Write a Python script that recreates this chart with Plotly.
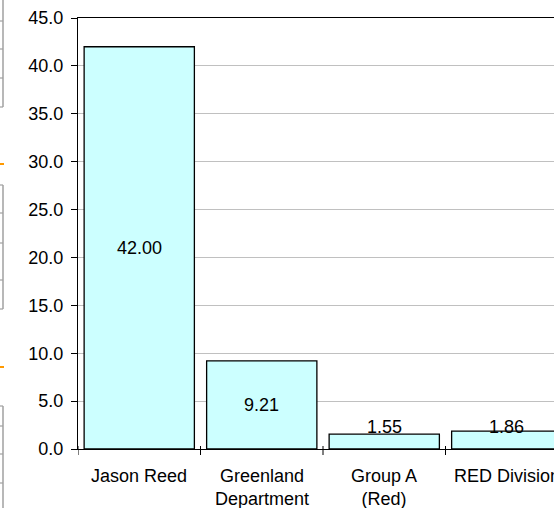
import plotly.graph_objects as go

# Chart data
categories = ["Jason Reed", "Greenland<br>Department", "Group A<br>(Red)", "RED Division"]
values = [42.00, 9.21, 1.55, 1.86]
y_ticks = [0, 5, 10, 15, 20, 25, 30, 35, 40, 45]
y_tick_labels = [f"{t:.1f}" for t in y_ticks]

W, H = 554, 508
M_L, M_R, M_T, M_B = 78, 0, 18, 59
plot_w = W - M_L - M_R
plot_h = H - M_T - M_B
cat_px = 122.5  # pixel width of one category slot

FONT = "Liberation Sans, Arial, sans-serif"
FS = 18

fig = go.Figure()
fig.add_trace(go.Bar(
    x=list(range(len(categories))),
    y=values,
    width=0.9,
    marker=dict(color="#CCFFFF", line=dict(color="#000000", width=1.3)),
    hoverinfo="skip",
))

# value labels, centred in the bar (kept a little above the axis for short bars)
for i, v in enumerate(values):
    fig.add_annotation(
        x=i, y=max(v / 2, 2.3), xref="x", yref="y",
        text=f"{v:.2f}", showarrow=False,
        font=dict(family=FONT, size=FS, color="#000000"),
        xanchor="center", yanchor="middle",
    )

# category labels under the axis (drawn as annotations so the last one may run off the edge)
for i, c in enumerate(categories):
    fig.add_annotation(
        x=i, y=0, xref="x", yref="y",
        text=c, showarrow=False,
        font=dict(family=FONT, size=FS, color="#000000"),
        xanchor="center", yanchor="top", yshift=-15,
    )

# boundary ticks crossing the category axis
for b in [-0.5, 0.5, 1.5, 2.5]:
    fig.add_shape(type="line", xref="x", yref="paper",
                  x0=b, x1=b, y0=-6 / plot_h, y1=3 / plot_h,
                  line=dict(color="#000000", width=1))

# fragments of the neighbouring panel along the left edge
def px_x(px):
    return (px - M_L) / plot_w

def px_y(py):
    return (H - M_B - py) / plot_h

boxes = [
    (0, 107, [21, 49, 78]),
    (185, 309, [213, 243, 280]),
    (406, 508, [426, 454, 483]),
]
for top, bottom, inner in boxes:
    fig.add_shape(type="line", xref="paper", yref="paper",
                  x0=px_x(3), x1=px_x(3), y0=px_y(top), y1=px_y(bottom),
                  line=dict(color="#A0A0A0", width=1.5))
    for yy in [top, bottom] + inner:
        if 0 < yy < H:
            fig.add_shape(type="line", xref="paper", yref="paper",
                          x0=px_x(0), x1=px_x(3), y0=px_y(yy), y1=px_y(yy),
                          line=dict(color="#A0A0A0", width=1.2))
for yy in [164, 367]:
    fig.add_shape(type="line", xref="paper", yref="paper",
                  x0=px_x(0), x1=px_x(4), y0=px_y(yy), y1=px_y(yy),
                  line=dict(color="#FF9900", width=2))

fig.update_layout(
    width=W, height=H,
    margin=dict(l=M_L, r=M_R, t=M_T, b=M_B, pad=0),
    paper_bgcolor="#FFFFFF", plot_bgcolor="#FFFFFF",
    showlegend=False,
    font=dict(family=FONT, size=FS, color="#000000"),
    xaxis=dict(
        range=[-0.5, -0.5 + plot_w / cat_px],
        showticklabels=False, ticks="",
        showline=True, linecolor="#000000", linewidth=1.3, mirror=True,
        showgrid=False, zeroline=False,
        fixedrange=True,
    ),
    yaxis=dict(
        range=[0, 45],
        tickmode="array",
        tickvals=y_ticks,
        ticktext=y_tick_labels,
        ticks="outside", ticklen=6, tickwidth=1, tickcolor="#000000",
        showline=True, linecolor="#000000", linewidth=1.3,
        showgrid=True, gridcolor="#C0C0C0", gridwidth=1,
        zeroline=False,
        tickfont=dict(family=FONT, size=FS, color="#000000"),
        ticklabelstandoff=4,
        fixedrange=True,
    ),
)

fig.write_html("out.html", config={"displayModeBar": False})
